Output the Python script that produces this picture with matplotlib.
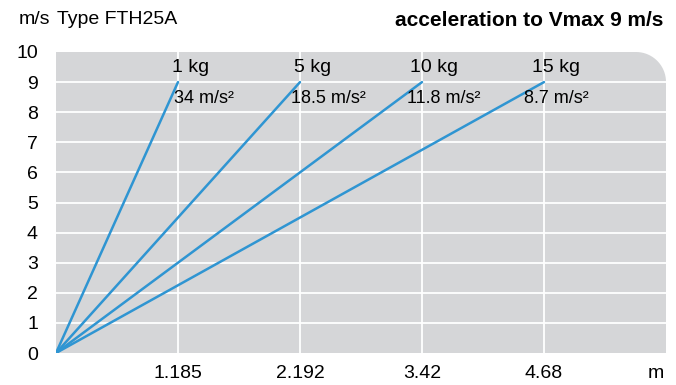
import numpy as np
import matplotlib
matplotlib.use('Agg')
import matplotlib.pyplot as plt
from matplotlib.path import Path
from matplotlib.patches import PathPatch

plt.rcParams['font.family'] = ['Liberation Sans', 'DejaVu Sans']

# data
distance_labels = ['1.185', '2.192', '3.42', '4.68']
masses = ['1 kg', '5 kg', '10 kg', '15 kg']
accels = ['34 m/s²', '18.5 m/s²', '11.8 m/s²', '8.7 m/s²']
vmax = 9
y_ticks = list(range(0, 11))

# label offsets (in x units) for the acceleration text
accel_dx = [-0.03, -0.07, -0.12, -0.16]

blue = '#2f95d2'
grey = '#d5d6d8'
fs = 14

fig = plt.figure(figsize=(6.76, 3.85), dpi=100)
ax = fig.add_axes([56/676, 1 - 353/385, 610/676, 301/385])
ax.set_xlim(0, 5)
ax.set_ylim(0, 10)
ax.set_facecolor('none')

# gray background with rounded top-right corner (axes fraction coords)
rx, ry = 30/610, 30/301
t = np.linspace(0, np.pi/2, 20)[::-1]
corner = np.column_stack([1 - rx + rx*np.cos(t), 1 - ry + ry*np.sin(t)])
verts = [(0, 0), (0, 1)] + [tuple(p) for p in corner] + [(1, 0), (0, 0)]
codes = [Path.MOVETO] + [Path.LINETO]*(len(verts) - 2) + [Path.CLOSEPOLY]
bg = PathPatch(Path(verts, codes), transform=ax.transAxes, facecolor=grey,
               edgecolor='none', zorder=0)
ax.add_patch(bg)

# grid
for yv in y_ticks[1:-1]:
    ax.plot([0, 5], [yv, yv], color='white', lw=1.3, zorder=1, solid_capstyle='butt')
for i in range(1, len(distance_labels) + 1):
    ax.plot([i, i], [0, 10], color='white', lw=1.3, zorder=1, solid_capstyle='butt')

# lines
for i, (m, a) in enumerate(zip(masses, accels)):
    xi = i + 1
    ax.plot([0, xi], [0, vmax], color=blue, lw=1.8, zorder=3, solid_capstyle='round')
    ax.text(xi + 0.1, 9.5, m, ha='center', va='center', fontsize=fs, zorder=4)
    ax.text(xi + accel_dx[i], 8.45, a, ha='left', va='center', fontsize=13, zorder=4)

for s in ax.spines.values():
    s.set_visible(False)

ax.set_yticks(y_ticks)
ax.set_yticklabels([str(v) for v in y_ticks], fontsize=fs)
ax.set_xticks(range(1, len(distance_labels) + 1))
ax.set_xticklabels(distance_labels, fontsize=fs)
ax.tick_params(axis='y', length=0, pad=13)
ax.tick_params(axis='x', length=0, pad=9)

fig.text(19/676, 1 - 20/385, 'm/s', ha='left', va='center', fontsize=fs)
fig.text(57/676, 1 - 20/385, 'Type FTH25A', ha='left', va='center', fontsize=fs)
fig.text(663/676, 1 - 20/385, 'acceleration to Vmax 9 m/s', ha='right', va='center',
         fontsize=15, fontweight='bold')
fig.text(664/676, 1 - 373/385, 'm', ha='right', va='center', fontsize=fs)

fig.savefig('out.png', dpi=100, facecolor='white')
